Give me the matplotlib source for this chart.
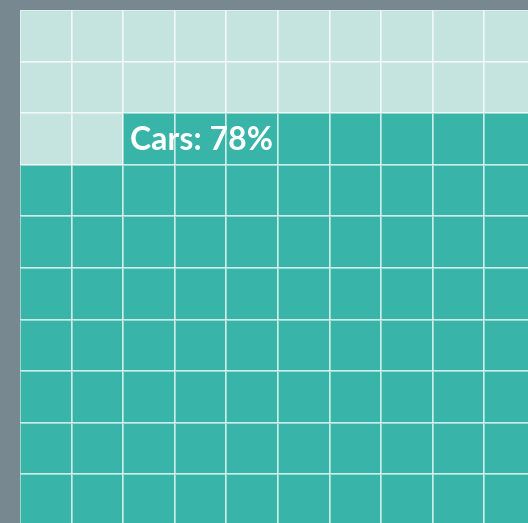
import matplotlib
matplotlib.use("Agg")
import matplotlib.pyplot as plt
import numpy as np

# waffle data
category = "Cars"
value = 78
total = 100
n_rows, n_cols = 10, 10

bg_color = "#778891"
empty_color = "#c5e4df"
fill_color = "#38b4a8"

# row-major from top-left; the empty cells come first
idx = np.arange(n_rows * n_cols).reshape(n_rows, n_cols)
grid = (idx >= total - value).astype(int)

fig = plt.figure(figsize=(5.28, 5.23), dpi=100, facecolor=bg_color)
ax = fig.add_axes([20 / 528, 0, 508 / 528, 513 / 523])

cmap = matplotlib.colors.ListedColormap([empty_color, fill_color])
ax.pcolormesh(np.arange(n_cols + 1), np.arange(n_rows + 1), grid, cmap=cmap,
              vmin=0, vmax=1, edgecolor=(1, 1, 1, 0.5), linewidth=1.2)

cell = 51.6
ax.set_xlim(0, 508 / cell)
ax.set_ylim(513 / cell, 0)
ax.axis("off")

# label sits on the first filled cell
first = total - value
r, c = divmod(first, n_cols)
ax.text(c + 7 / cell, r + 0.52, f"{category}: {value}%", color="white",
        fontsize=23, fontweight="bold", family="Lato", va="center", ha="left")

fig.savefig("out.png", dpi=100, facecolor=bg_color)
